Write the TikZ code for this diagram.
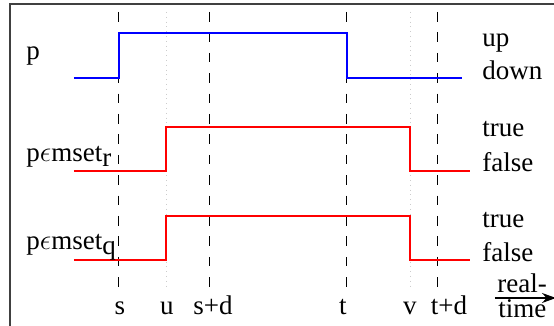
\documentclass[tikz,border=0pt]{standalone}
\usepackage{fontspec}
\setmainfont{Liberation Serif}
\usetikzlibrary{arrows.meta}
\begin{document}
\begin{tikzpicture}[x=0.5pt,y=-0.5pt,
  lbl/.style={inner sep=0pt,font=\fontsize{13.5}{15}\selectfont},
  mark line/.style={black,line width=0.5pt,dash pattern=on 4.8pt off 5.4pt},
  ghost/.style={gray!40,line width=0.4pt,dotted},
  sigblue/.style={blue,line width=0.6pt},
  sigred/.style={red,line width=0.6pt}]
\useasboundingbox (0,0) rectangle (554,326);
\clip (0,0) rectangle (554,326);
% frame
\draw[black!75,line width=0.8pt] (10,340) -- (10,4) -- (570,4);
% guide lines
\coordinate (sT) at (119,12); \coordinate (sB) at (119,290);
\coordinate (uT) at (166,12); \coordinate (uB) at (166,290);
\coordinate (sdT) at (210,12); \coordinate (sdB) at (210,290);
\coordinate (tT) at (347,12); \coordinate (tB) at (347,290);
\coordinate (vT) at (410,12); \coordinate (vB) at (410,290);
\coordinate (tdT) at (438,12); \coordinate (tdB) at (438,290);
\draw[ghost] (uT) -- (uB);
\draw[ghost] (vT) -- (vB);
\draw[mark line] (sT) -- (sB);
\draw[mark line] (sdT) -- (sdB);
\draw[mark line] (tT) -- (tB);
\draw[mark line] (tdT) -- (tdB);
% signals
\draw[sigblue] (74,78) -- (119,78) -- (119,33) -- (347,33) -- (347,78) -- (462,78);
\draw[sigred] (74,171) -- (166,171) -- (166,127) -- (410,127) -- (410,171) -- (470,171);
\draw[sigred] (74,260) -- (166,260) -- (166,216) -- (410,216) -- (410,260) -- (470,260);
% left labels
\node[lbl,anchor=base west] (lp) at (26,60) {p};
\node[lbl,anchor=base west] (lr) at (26,162) {p$\epsilon$mset\raisebox{-0.35ex}{r}};
\node[lbl,anchor=base west] (lq) at (26,250) {p$\epsilon$mset\raisebox{-0.35ex}{q}};
% right labels
\node[lbl,anchor=base west] (up) at (482,47) {up};
\node[lbl,anchor=base west] (down) at (482,80) {down};
\node[lbl,anchor=base west] (tr1) at (482,137) {true};
\node[lbl,anchor=base west] (fa1) at (482,172) {false};
\node[lbl,anchor=base west] (tr2) at (482,228) {true};
\node[lbl,anchor=base west] (fa2) at (482,262) {false};
% bottom labels
\node[lbl,anchor=base] (ls) at (120,315) {s};
\node[lbl,anchor=base] (lu) at (167,315) {u};
\node[lbl,anchor=base] (lsd) at (213,315) {s+d};
\node[lbl,anchor=base] (lt) at (343,315) {t};
\node[lbl,anchor=base] (lv) at (410,315) {v};
\node[lbl,anchor=base] (ltd) at (449,315) {t+d};
% real time arrow
\node[lbl,anchor=base west] (real) at (497,293) {real-};
\node[lbl,anchor=base west] (time) at (498,318) {time};
\coordinate (aS) at (495,298);
\coordinate (aE) at (556,298);
\draw[black,line width=0.7pt,-{Stealth[length=7pt,width=5pt]}] (aS) -- (aE);
\end{tikzpicture}
\end{document}
